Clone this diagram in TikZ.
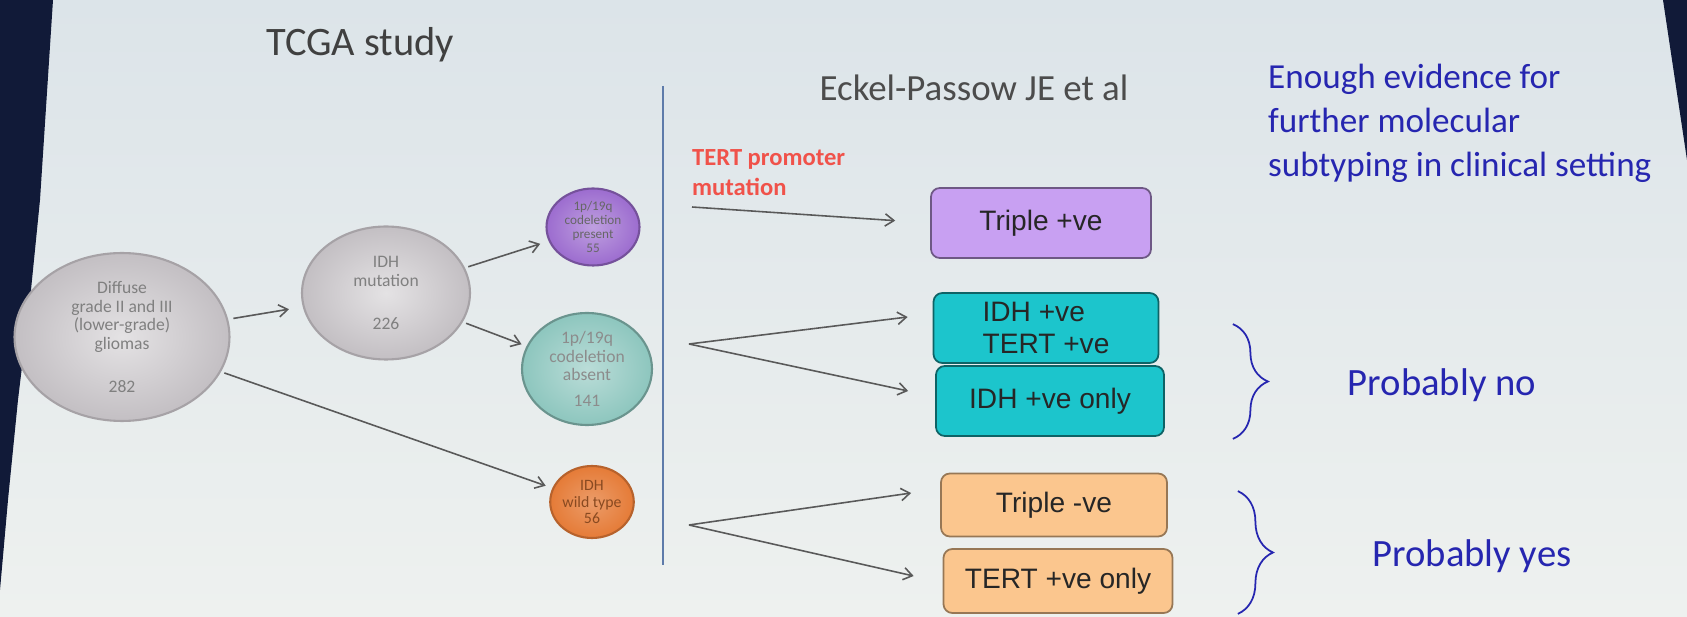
\documentclass[tikz,border=0pt]{standalone}
\usepackage{fontspec}
\setmainfont{Carlito}
\setsansfont{Liberation Sans}
\usetikzlibrary{arrows.meta,positioning,calc,shapes.geometric,decorations.pathreplacing}
\usepackage{xcolor}
\definecolor{SlideTop}{HTML}{DCE4E9}
\definecolor{SlideBot}{HTML}{EEF1EF}
\definecolor{Frame}{HTML}{111A38}
\definecolor{Ink}{HTML}{2626B0}
\definecolor{Tert}{HTML}{F0524A}
\definecolor{Rule}{HTML}{5E7BAA}
\definecolor{Lilac}{HTML}{C8A0F2}
\definecolor{Cyan}{HTML}{1CC5CC}
\definecolor{Apricot}{HTML}{FBC68E}
\definecolor{GreyC}{HTML}{C3BFC3}
\definecolor{PurpC}{HTML}{9C6CCF}
\definecolor{TealC}{HTML}{8DC6BE}
\definecolor{OranC}{HTML}{E57B37}

\begin{document}
\begin{tikzpicture}[
        %Environment Cfg.
        x=0.02cm, y=-0.02cm,
        >={Straight Barb[length=5pt,width=7pt]},
        %Environment Styles.
        nCirc/.style={
            ellipse,
            inner sep=0pt,
            align=center,
            line width=1.2pt,
            font=\fontsize{10}{10.5}\selectfont
        },
        gCirc/.style={nCirc, draw=GreyC!85!black, inner color=GreyC!45!white, outer color=GreyC, text=black!50},
        pCirc/.style={nCirc, draw=PurpC!75!black, inner color=PurpC!65!white, outer color=PurpC, text=black!60,
            font=\fontsize{7.5}{7.8}\selectfont},
        tCirc/.style={nCirc, draw=TealC!75!black, inner color=TealC!60!white, outer color=TealC, text=black!45},
        oCirc/.style={nCirc, draw=OranC!80!black, inner color=OranC!75!white, outer color=OranC, text=OranC!60!black,
            font=\fontsize{9}{9.5}\selectfont},
        nBox/.style={
            rectangle,
            rounded corners=5pt,
            line width=1pt,
            align=left,
            minimum width=4.5cm,
            minimum height=1.4cm,
            text=black!85,
            font=\sffamily\fontsize{16}{18}\selectfont
        },
        pBox/.style={nBox, fill=Lilac, draw=Lilac!55!black},
        tBox/.style={nBox, fill=Cyan, draw=Cyan!50!black},
        oBox/.style={nBox, fill=Apricot, draw=Apricot!60!black},
        link/.style={->, line width=0.9pt, draw=black!65},
        brc/.style={draw=Ink, line width=1pt, decorate, decoration={brace, amplitude=20pt, aspect=0.5}},
        note/.style={text=Ink, font=\fontsize{22}{26}\selectfont},
    ]
    %Slide background and photo edges.
    \useasboundingbox (0,0) rectangle (1687,617);
    \shade[top color=SlideTop, bottom color=SlideBot] (0,0) rectangle (1687,617);
    \fill[Frame] (0,0) -- (53,0) -- (40,200) -- (30,300) -- (18,400) -- (8,500) -- (0,590) -- cycle;
    \fill[Frame] (1663,0) -- (1687,0) -- (1687,160) -- cycle;

    %Headings.
    \node[text=black!75, font=\fontsize{23}{26}\selectfont](TITLE) at (360,45){TCGA study};
    \node[text=black!70, font=\fontsize{21}{24}\selectfont](ECKEL) at (974,88){Eckel-Passow JE et al};
    \node[text=Ink, align=left, anchor=west, font=\fontsize{20}{25}\selectfont](EVID) at (1262,123)
        {Enough evidence for\\further molecular\\subtyping in clinical setting};
    \draw[Rule, line width=1pt] (663,86) -- (663,565);

    %TCGA tree.
    \node[gCirc, minimum width=4.3cm, minimum height=3.36cm](DIFF) at (122,337)
        {Diffuse\\grade II and III\\(lower-grade)\\gliomas\\[14pt]282};
    \node[gCirc, minimum width=3.36cm, minimum height=2.66cm](IDH) at (386,293)
        {IDH\\mutation\\[14pt]226};
    \node[pCirc, minimum width=1.86cm, minimum height=1.54cm](PRES) at (593,227)
        {1p/19q\\codeletion\\present\\55};
    \node[tCirc, minimum width=2.6cm, minimum height=2.24cm](ABS) at (587,369)
        {1p/19q\\codeletion\\absent\\[4pt]141};
    \node[oCirc, minimum width=1.66cm, minimum height=1.44cm](WILD) at (592,502)
        {IDH\\wild type\\56};

    \draw[link, shorten <=3pt, shorten >=8pt](DIFF)--(IDH);
    \draw[link, shorten <=2pt, shorten >=5pt](IDH)--(PRES);
    \draw[link, shorten <=2pt, shorten >=3pt](IDH)--(ABS);
    \draw[link, shorten <=2pt, shorten >=4pt](DIFF)--(WILD);

    %Eckel-Passow groups.
    \node[text=Tert, align=left, anchor=north west, font=\bfseries\fontsize{14}{17}\selectfont](TLAB) at (686,143)
        {TERT promoter\\mutation};
    \node[pBox, minimum width=4.4cm](TPOS) at (1041,223){Triple +ve};
    \node[tBox](IDHTERT) at (1046,328){IDH +ve\\TERT +ve};
    \node[tBox, minimum width=4.56cm](IDHONLY) at (1050,401){IDH +ve only};
    \node[oBox, minimum width=4.52cm, minimum height=1.26cm](TNEG) at (1054,505){Triple -ve};
    \node[oBox, minimum width=4.58cm, minimum height=1.28cm](TERTONLY) at (1058,581){TERT +ve only};

    \coordinate (TSTART) at (692,207);
    \coordinate (FORK-A) at (689,344);
    \coordinate (FORK-B) at (689,525);
    \draw[link, shorten >=0.7cm](TSTART)--(TPOS.west);
    \draw[link](FORK-A)--([xshift=-0.5cm,yshift=0.22cm]IDHTERT.west);
    \draw[link](FORK-A)--([xshift=-0.54cm,yshift=0.2cm]IDHONLY.west);
    \draw[link](FORK-B)--([xshift=-0.58cm,yshift=0.24cm]TNEG.west);
    \draw[link](FORK-B)--([xshift=-0.58cm,yshift=0.1cm]TERTONLY.west);

    %Braces and verdicts.
    \draw[brc]([xshift=1.47cm,yshift=-0.64cm]IDHTERT.north east)--([xshift=1.36cm,yshift=-0.04cm]IDHONLY.south east);
    \draw[brc]([xshift=1.4cm,yshift=-0.37cm]TNEG.north east)--([xshift=1.29cm,yshift=0cm]TERTONLY.south east);
    \node[note](PNO) at (1442,385){Probably no};
    \node[note](PYES) at (1472,556){Probably yes};

    \end{tikzpicture}
\end{document}
